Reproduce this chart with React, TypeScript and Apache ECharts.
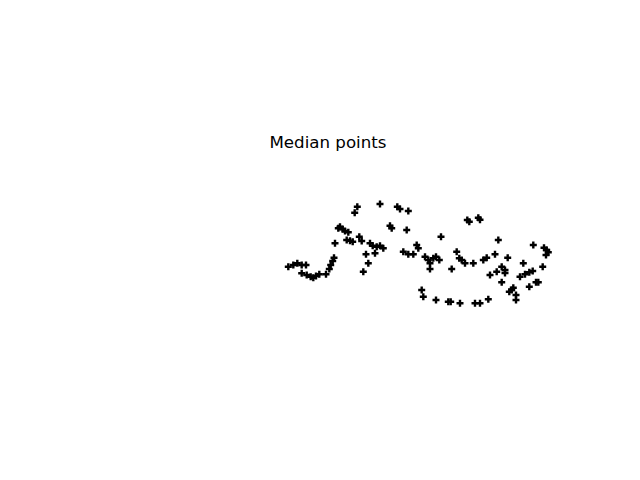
import React, { useEffect, useRef } from "react";
import * as echarts from "echarts";

const titleText = "Median points";

const xValues: number[] = [
  20.83, 21.33, 21.73, 22.17, 22.6, 22.17, 22.67, 23.07, 23.33, 23.6, 23.93, 24.6,
  24.93, 25.07, 25.27, 25.4, 25.5, 25.83, 26.0, 26.27, 26.5, 26.83, 26.67, 27.0,
  27.27, 27.93, 28.17, 27.47, 27.73, 28.33, 28.83, 28.6, 29.0, 29.27, 29.67, 30.0,
  30.33, 29.5, 30.0, 31.0, 31.17, 31.73, 32.0, 32.83, 32.67, 32.33, 32.83, 33.33,
  33.83, 33.67, 34.5, 34.83, 35.0, 35.33, 35.6, 35.93, 35.0, 36.1, 37.17, 37.67,
  37.93, 38.17, 38.5, 38.73, 38.93, 39.83, 40.0, 39.33, 40.33, 40.67, 41.5, 41.83,
  42.77, 41.0, 41.67, 42.17, 42.5, 42.17, 44.33, 46.27, 44.0, 44.5, 44.93, 45.27,
  43.17, 43.33, 42.93, 43.6, 44.93, 45.6, 45.83, 45.33, 46.4, 46.67, 46.83, 46.6,
  34.17, 34.33, 35.6, 36.83, 37.07, 38.0, 39.5, 40.0, 40.83, 42.5, 43.6
];

const yValues: number[] = [
  6.63, 6.8, 6.97, 6.8, 6.8, 5.97, 5.8, 5.63, 5.53, 5.7, 5.87, 5.87,
  6.4, 6.8, 7.2, 7.53, 8.97, 10.47, 10.63, 10.37, 10.2, 10.07, 9.3, 9.23,
  9.13, 9.63, 9.2, 12.03, 12.63, 6.13, 6.97, 7.87, 8.97, 8.73, 8.63, 8.73,
  8.47, 7.97, 12.9, 10.73, 10.47, 12.63, 12.4, 12.2, 10.3, 8.13, 7.87, 7.87,
  8.47, 8.8, 7.63, 7.3, 6.97, 7.47, 7.63, 7.3, 6.4, 9.63, 6.4, 8.13,
  7.47, 7.3, 6.97, 11.3, 11.13, 11.53, 11.33, 6.97, 7.3, 7.53, 7.87, 9.3,
  7.53, 5.8, 6.13, 6.63, 6.3, 5.07, 6.97, 6.63, 5.63, 5.87, 6.07, 6.2,
  4.3, 4.53, 4.13, 3.3, 4.63, 5.07, 5.07, 8.8, 8.53, 8.3, 8.07, 7.8,
  4.3, 3.63, 3.3, 3.13, 3.13, 2.97, 2.97, 2.97, 3.37, 6.0, 3.8
];

const plusSymbol =
  "path://M2.3,0H4.7V2.3H7V4.7H4.7V7H2.3V4.7H0V2.3H2.3Z";

export default function App() {
  const ref = useRef<HTMLDivElement>(null);

  useEffect(() => {
    document.body.style.margin = "0";
    if (!ref.current) return;
    const chart = echarts.init(ref.current, undefined, { renderer: "svg" });
    const data = xValues.map((x, i) => [x, yValues[i]]);
    chart.setOption({
      animation: false,
      backgroundColor: "#ffffff",
      title: {
        text: titleText,
        left: 323,
        top: 129,
        textAlign: "center",
        textStyle: {
          fontFamily: "DejaVu Sans",
          fontSize: 16.67,
          fontWeight: "normal",
          color: "#000000",
        },
      },
      grid: { left: 80, top: 152, width: 496, height: 181 },
      xAxis: {
        type: "value",
        min: 0,
        max: 49.6,
        show: false,
      },
      yAxis: {
        type: "value",
        min: 0,
        max: 18.1,
        show: false,
      },
      series: [
        {
          type: "scatter",
          data,
          symbol: plusSymbol,
          symbolSize: 7,
          itemStyle: { color: "#000000", opacity: 1 },
          silent: true,
        },
      ],
    });
    return () => chart.dispose();
  }, []);

  return <div ref={ref} style={{ width: 640, height: 480 }} />;
}
